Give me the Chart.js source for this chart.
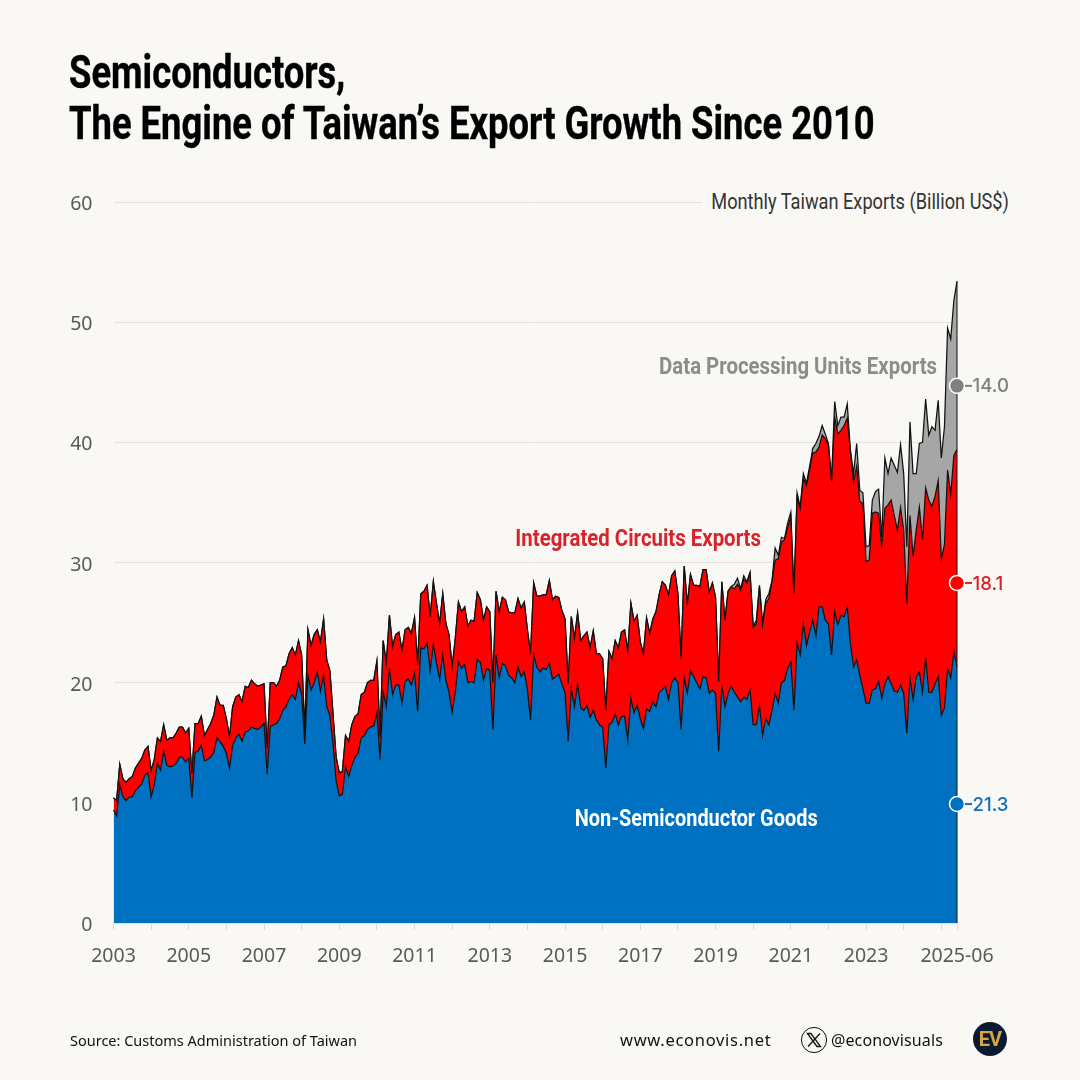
<!DOCTYPE html>
<html>
<head>
<meta charset="utf-8">
<title>Semiconductors, The Engine of Taiwan's Export Growth Since 2010</title>
<script src="https://cdn.jsdelivr.net/npm/chart.js@4"></script>
<style>
  html, body { margin: 0; padding: 0; background: #f9f8f5; }
  #page { position: relative; width: 1080px; height: 1080px; overflow: hidden; background: #f9f8f5; }
  #chart { position: absolute; left: 0; top: 0; }
  .txt { position: absolute; white-space: nowrap; font-family: "Roboto", sans-serif; transform-origin: right center; }
  h1 { position: absolute; left: 69px; top: 47px; margin: 0; color: #000; white-space: nowrap;
       font: bold 46px/51px "Roboto", sans-serif; -webkit-text-stroke: 0.4px #000;
       transform: scaleX(0.791); transform-origin: left top; }
  .note { font-weight: bold; font-size: 24px; line-height: 28px; transform: scaleX(0.85); }
  .foot { font-family: "Noto Sans", sans-serif; color: #111; line-height: 20px; transform-origin: left center; }
</style>
</head>
<body>
<div id="page">
  <canvas id="chart" width="1080" height="1080"></canvas>
  <h1>Semiconductors,<br>The Engine of Taiwan’s Export Growth Since 2010</h1>
  <div class="txt" style="right:71px;top:188px;font-size:22px;line-height:28px;color:#333;background:#f9f8f5;padding-left:11px;transform:scaleX(0.827);">Monthly Taiwan Exports (Billion US$)</div>
  <div class="txt note" style="right:143px;top:352px;color:#8c8c8c;">Data Processing Units Exports</div>
  <div class="txt note" style="right:319px;top:524px;color:#d8232a;">Integrated Circuits Exports</div>
  <div class="txt note" style="right:262px;top:804px;color:#fff;transform:scaleX(0.83);">Non-Semiconductor Goods</div>
  <div class="txt foot" style="left:70px;top:1030px;font-size:14.5px;">Source: Customs Administration of Taiwan</div>
  <div class="txt foot" style="left:620px;top:1030px;font-size:16.5px;letter-spacing:0.7px;">www.econovis.net</div>
  <svg style="position:absolute;left:800px;top:1026px;" width="28" height="28" viewBox="0 0 28 28">
    <circle cx="14" cy="14" r="12.6" fill="none" stroke="#111" stroke-width="1"/>
    <path d="M7.5 7.5 L17 20.5 H20.5 L11 7.5 Z M20 7.5 L8 20.5" fill="none" stroke="#111" stroke-width="1.3"/>
  </svg>
  <div class="txt foot" style="left:831px;top:1030px;font-size:16px;letter-spacing:0.1px;">@econovisuals</div>
  <div class="txt" style="left:973px;top:1022px;width:34px;height:34px;border-radius:50%;background:#0b1a30;color:#d9a441;font:bold 20px/34px 'Roboto',sans-serif;text-align:center;letter-spacing:-1px;">EV</div>
</div>
<script>
// ============= DATA =============
const firstYear = 2003;
const lastMonth = '2025-06';
const yTicks = [0, 10, 20, 30, 40, 50, 60];
const xTickLabels = ['2003', '2005', '2007', '2009', '2011', '2013', '2015', '2017', '2019', '2021', '2023', '2025-06'];

// billion US$, one row per year, Jan -> Dec
const nonSemi = [
  9.4, 8.9, 11.5, 10.5, 10.2, 10.5, 10.5, 11.0, 11.3, 11.6, 12.3, 12.5,
  10.5, 11.5, 13.3, 12.7, 14.3, 13.1, 13.0, 13.1, 13.3, 13.8, 13.8, 13.4,
  13.7, 10.4, 14.2, 14.3, 14.8, 13.5, 13.6, 13.8, 14.2, 15.4, 15.1, 14.7,
  14.1, 12.9, 14.8, 15.4, 15.7, 15.1, 15.9, 16.0, 16.3, 16.2, 16.1, 16.3,
  16.6, 12.4, 16.3, 16.5, 16.6, 17.0, 17.7, 18.0, 18.6, 19.0, 18.6, 20.0,
  19.0, 14.9, 20.6, 19.4, 20.0, 20.9, 19.3, 20.6, 18.0, 17.3, 14.9, 11.8,
  10.6, 10.7, 13.0, 12.2, 13.1, 13.8, 14.1, 15.4, 15.6, 16.1, 16.3, 16.4,
  17.5, 13.6, 19.2, 18.0, 21.2, 19.0, 19.8, 19.8, 18.3, 20.1, 20.3, 19.8,
  20.8, 17.6, 22.9, 22.8, 23.3, 21.0, 23.2, 21.6, 20.3, 22.3, 20.2, 19.2,
  17.5, 19.2, 21.7, 21.2, 21.5, 20.0, 20.1, 20.0, 21.9, 21.7, 20.2, 21.2,
  21.0, 16.1, 22.3, 20.4, 21.6, 21.4, 20.6, 20.4, 20.0, 21.3, 20.5, 20.9,
  19.4, 16.9, 22.3, 21.3, 20.9, 21.2, 21.1, 21.6, 20.3, 20.5, 20.7, 19.9,
  19.2, 15.1, 19.5, 18.0, 19.9, 17.9, 17.7, 18.1, 17.1, 17.7, 16.9, 16.5,
  16.3, 12.9, 16.5, 16.7, 17.4, 16.5, 17.2, 17.2, 15.2, 18.7, 17.5, 18.1,
  17.0, 16.2, 17.8, 17.6, 18.4, 18.0, 19.2, 19.4, 19.7, 18.6, 20.0, 20.4,
  20.0, 16.1, 20.4, 19.1, 21.0, 20.5, 20.0, 19.5, 20.5, 20.4, 19.1, 19.4,
  19.1, 14.3, 19.8, 18.0, 19.1, 19.7, 19.2, 18.8, 18.4, 18.8, 18.6, 19.4,
  16.5, 16.5, 18.1, 15.6, 17.0, 16.5, 17.7, 19.1, 18.3, 20.0, 20.2, 21.2,
  21.7, 17.7, 23.3, 22.3, 24.9, 23.1, 24.2, 25.2, 23.9, 26.3, 26.3, 25.2,
  24.9, 22.3, 25.9, 24.8, 25.6, 25.5, 26.3, 23.3, 21.3, 21.9, 20.6, 19.5,
  18.3, 18.3, 19.4, 19.5, 20.1, 18.7, 19.9, 20.5, 19.9, 19.3, 19.2, 19.8,
  19.1, 15.8, 20.4, 18.6, 20.5, 20.9, 19.2, 22.1, 19.2, 19.2, 19.9, 20.5,
  17.3, 17.9, 21.2, 20.4, 22.6, 21.3
];

const integratedCircuits = [
  1.0, 1.3, 1.7, 1.5, 1.5, 1.5, 1.7, 1.9, 2.0, 2.1, 2.1, 2.2,
  2.2, 2.1, 2.1, 2.4, 2.2, 2.1, 2.4, 2.3, 2.5, 2.5, 2.5, 2.4,
  2.5, 2.0, 2.4, 2.3, 2.4, 2.1, 2.5, 2.8, 3.1, 3.4, 3.0, 3.4,
  2.9, 2.6, 3.2, 3.4, 3.3, 3.3, 3.8, 3.6, 3.9, 3.7, 3.6, 3.5,
  3.3, 2.1, 3.7, 3.5, 3.1, 3.2, 3.6, 3.4, 3.8, 3.9, 3.7, 3.5,
  3.3, 1.1, 3.8, 3.7, 4.0, 3.5, 4.1, 4.7, 3.9, 3.7, 2.5, 2.0,
  1.9, 1.9, 2.6, 2.9, 3.4, 3.4, 3.3, 3.6, 3.6, 3.9, 3.9, 3.8,
  4.3, 1.9, 4.3, 3.6, 4.4, 4.0, 4.2, 4.4, 4.4, 4.3, 4.3, 4.3,
  4.6, 3.9, 4.5, 4.8, 4.8, 4.5, 5.2, 5.0, 4.6, 5.1, 4.7, 4.8,
  3.8, 4.5, 5.0, 4.7, 4.8, 4.7, 5.1, 5.1, 5.6, 5.2, 5.0, 5.1,
  4.9, 3.9, 5.3, 5.5, 5.5, 5.5, 5.3, 5.4, 5.8, 5.7, 5.7, 5.8,
  5.0, 5.5, 6.0, 5.9, 6.3, 6.1, 6.2, 6.9, 6.6, 6.7, 6.4, 6.1,
  6.1, 4.8, 6.0, 5.7, 5.9, 5.6, 6.2, 6.1, 5.8, 6.6, 5.5, 5.9,
  5.7, 4.8, 6.1, 5.3, 6.1, 6.4, 7.0, 7.2, 7.4, 7.9, 7.6, 7.5,
  6.4, 6.2, 7.6, 6.5, 6.9, 7.9, 8.1, 9.0, 8.4, 8.7, 8.9, 8.9,
  7.4, 5.9, 9.3, 7.4, 8.0, 7.6, 8.1, 8.5, 8.9, 9.0, 8.4, 8.9,
  8.0, 5.8, 8.6, 7.2, 8.5, 8.3, 8.6, 9.4, 9.3, 9.8, 9.7, 9.7,
  8.1, 8.4, 9.9, 9.2, 9.6, 10.5, 10.7, 11.1, 12.0, 11.7, 11.7, 11.7,
  12.1, 9.7, 12.1, 12.2, 12.1, 13.3, 13.5, 13.9, 15.3, 13.3, 14.3, 15.1,
  14.9, 14.4, 16.2, 15.9, 15.4, 15.9, 15.7, 15.9, 15.4, 16.1, 14.5, 15.4,
  11.8, 11.9, 14.7, 14.7, 14.0, 12.6, 14.6, 14.3, 15.3, 14.6, 13.5, 14.8,
  13.6, 10.8, 13.5, 11.9, 12.2, 13.7, 12.7, 14.1, 16.0, 15.5, 15.6, 16.3,
  13.0, 13.6, 16.5, 15.3, 16.3, 18.1
];

const dataProcessing = [
  0, 0, 0, 0, 0, 0, 0, 0, 0, 0, 0, 0,
  0, 0, 0, 0, 0, 0, 0, 0, 0, 0, 0, 0,
  0, 0, 0, 0, 0, 0, 0, 0, 0, 0, 0, 0,
  0, 0, 0, 0, 0, 0, 0, 0, 0, 0, 0, 0,
  0, 0, 0, 0, 0, 0, 0, 0, 0, 0, 0, 0,
  0, 0, 0, 0, 0, 0, 0, 0, 0, 0, 0, 0,
  0, 0, 0, 0, 0, 0, 0, 0, 0, 0, 0, 0,
  0, 0, 0, 0, 0, 0, 0, 0, 0, 0, 0, 0,
  0, 0, 0, 0, 0, 0, 0, 0, 0, 0, 0, 0,
  0, 0, 0, 0, 0, 0, 0, 0, 0, 0, 0, 0,
  0, 0, 0, 0, 0, 0, 0, 0, 0, 0, 0, 0,
  0, 0, 0, 0, 0, 0, 0, 0, 0, 0, 0, 0,
  0, 0, 0, 0, 0, 0, 0, 0, 0, 0, 0, 0,
  0, 0, 0, 0, 0, 0, 0, 0, 0, 0, 0, 0,
  0, 0, 0, 0, 0, 0, 0, 0, 0, 0, 0, 0,
  0, 0, 0, 0, 0, 0, 0, 0, 0, 0, 0, 0,
  0, 0, 0, 0, 0, 0, 0.4, 0.5, 0.1, 0.3, 0.1, 0.1,
  0.1, 0.3, 0.1, 0.1, 0.3, 0.4, 0.1, 1.0, 0.3, 0.4, 0.1, 0.4,
  0.4, 0.1, 0.4, 0.1, 0.4, 0.2, 0.3, 0.4, 0.7, 0.9, 0.8, 0.4,
  0.1, 0.2, 1.3, 0.7, 1.1, 0.7, 1.2, 0.2, 0.7, 1.9, 0.9, 0.9,
  1.2, 1.2, 1.1, 1.7, 2.0, 0.8, 4.2, 2.6, 3.5, 4.2, 4.8, 5.2,
  4.7, 4.7, 7.8, 6.9, 4.7, 5.3, 8.1, 7.4, 5.4, 6.6, 5.5, 6.7,
  8.4, 9.8, 11.8, 12.9, 12.9, 14.0
];

// end-of-series markers: level on the y axis and the value printed beside it
const markerLevels = [44.7, 28.3, 9.9];
const markerValues = ['14.0', '18.1', '21.3'];

// ============= CORES =============
const BLUE = '#0070c0';
const RED = '#ff0000';
const GRAY = '#a6a6a6';
const MARKER_COLORS = ['#808080', '#ff0000', '#0070c0'];
const VALUE_COLORS = ['#7f7f7f', '#d8232a', '#1470b4'];

const months = nonSemi.map((_, i) => {
  const y = firstYear + Math.floor(i / 12);
  const m = String(i % 12 + 1).padStart(2, '0');
  return `${y}-${m}`;
});

function areaSet(label, values, color) {
  return {
    label,
    data: values,
    backgroundColor: color,
    borderColor: '#111',
    borderWidth: 1.25,
    pointRadius: 0,
    tension: 0,
    order: 1,
    stack: 'exports'
  };
}

function markerSet(i) {
  return {
    label: 'marker' + i,
    data: months.map(m => (m === lastMonth ? markerLevels[i] : null)),
    showLine: false,
    fill: false,
    clip: false,
    pointRadius: 7.5,
    pointBackgroundColor: MARKER_COLORS[i],
    pointBorderColor: '#fff',
    pointBorderWidth: 1.5,
    order: 0,
    stack: 'marker' + i
  };
}

// right edge of the stack goes under the markers, dashes and values beside them
const endLabels = {
  id: 'endLabels',
  beforeDatasetDraw(chart, args) {
    if (args.index !== 5) return;
    const { ctx, scales: { x, y } } = chart;
    const last = months.length - 1;
    const px = x.getPixelForValue(last);
    ctx.save();
    ctx.strokeStyle = '#111';
    ctx.lineWidth = 1;
    ctx.beginPath();
    ctx.moveTo(px, y.getPixelForValue(nonSemi[last] + integratedCircuits[last] + dataProcessing[last]));
    ctx.lineTo(px, y.getPixelForValue(0));
    ctx.stroke();
    ctx.restore();
  },
  afterDatasetsDraw(chart) {
    const { ctx, scales: { x, y } } = chart;
    const px = x.getPixelForValue(months.length - 1);
    ctx.save();
    markerLevels.forEach((lv, i) => {
      const py = y.getPixelForValue(lv);
      ctx.strokeStyle = VALUE_COLORS[i];
      ctx.lineWidth = 2;
      ctx.beginPath();
      ctx.moveTo(px + 8, py);
      ctx.lineTo(px + 15, py);
      ctx.stroke();
      ctx.fillStyle = VALUE_COLORS[i];
      ctx.font = '500 18.6px "Inter", sans-serif';
      ctx.textBaseline = 'middle';
      ctx.fillText(markerValues[i], px + 15.5, py + 1);
    });
    ctx.restore();
  }
};

new Chart(document.getElementById('chart'), {
  type: 'line',
  data: {
    labels: months,
    datasets: [
      Object.assign(areaSet('Non-Semiconductor Goods', nonSemi, BLUE), { fill: 'origin' }),
      Object.assign(areaSet('Integrated Circuits Exports', integratedCircuits, RED), { fill: '-1' }),
      Object.assign(areaSet('Data Processing Units Exports', dataProcessing, GRAY), { fill: '-1' }),
      markerSet(0),
      markerSet(1),
      markerSet(2)
    ]
  },
  plugins: [endLabels],
  options: {
    responsive: false,
    animation: false,
    layout: { padding: { top: 202, right: 123, bottom: 0, left: 0 } },
    plugins: {
      legend: { display: false },
      tooltip: { enabled: false }
    },
    scales: {
      y: {
        stacked: true,
        min: 0,
        max: 60,
        afterBuildTicks: s => { s.ticks = yTicks.map(v => ({ value: v })); },
        afterFit: s => { s.width = 113.5; },
        border: { display: false },
        grid: { color: '#e2e1dd', lineWidth: 1, drawTicks: false },
        ticks: {
          padding: 21,
          color: '#595959',
          // empty first line pushes the number a touch below the grid line
          font: { family: '"Noto Sans", sans-serif', size: 19.5, lineHeight: 0.25 },
          callback: v => ['', String(v)]
        }
      },
      x: {
        type: 'category',
        offset: false,
        afterBuildTicks: s => {
          s.ticks = s.ticks.filter(t => months[t.value].endsWith('-01') || months[t.value] === lastMonth);
        },
        afterFit: s => { s.height = 157; },
        border: { display: false },
        grid: { drawOnChartArea: false, drawTicks: true, tickLength: 7, tickColor: '#dddcd8' },
        ticks: {
          autoSkip: false,
          maxRotation: 0,
          padding: 15,
          color: '#595959',
          font: { family: '"Noto Sans", sans-serif', size: 19.5 },
          callback: function (value) {
            const label = months[value];
            if (label === lastMonth) return label;
            const year = label.slice(0, 4);
            return xTickLabels.includes(year) ? year : '';
          }
        }
      }
    }
  }
});
</script>
</body>
</html>
